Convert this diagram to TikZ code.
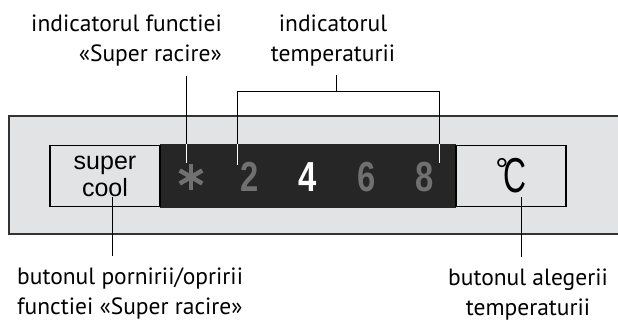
\documentclass[tikz,border=0pt]{standalone}
\usepackage{fontspec}
\setmainfont{PT Sans}
\newfontfamily\arialfont{Liberation Sans}
\usetikzlibrary{positioning}
\definecolor{panelgrey}{HTML}{E2E3E5}
\definecolor{lcdblack}{HTML}{262626}
\definecolor{segoff}{HTML}{707070}

\begin{document}
\begin{tikzpicture}[
  x=1pt, y=-1pt,
  label/.style={font=\fontsize{23.5}{30}\selectfont, inner sep=0pt},
  button/.style={draw, line width=1.1pt, fill=panelgrey, minimum width=110pt, minimum height=61pt,
    inner sep=0pt, outer sep=0pt, align=center, font=\arialfont\fontsize{25}{27}\selectfont},
  lcd/.style={fill=lcdblack, minimum width=296pt, minimum height=64pt, inner sep=0pt, outer sep=0pt},
  digit/.style={font=\arialfont\bfseries\fontsize{42}{42}\selectfont, inner sep=0pt},
  lead/.style={line width=0.9pt}
]
  \useasboundingbox (0,0) rectangle (618,321);

  % panel
  \fill[panelgrey] (9,116) rectangle (622,234);
  \draw[line width=1.3pt, black!80] (622,116) -- (9,116) -- (9,234) -- (622,234);

  % display and buttons
  \node[lcd] (lcd) at (308,176) {};
  \node[button, left=0pt of lcd] (super) {super\\cool};
  \node[button, right=0pt of lcd] (temp)
    {\raisebox{11pt}{\fontsize{33}{33}\selectfont °}\kern-5pt\fontsize{49}{49}\selectfont\scalebox{0.65}[1]{C}};

  % indicators
  \coordinate (snow) at (191,177);
  \foreach \a in {90,30,150}
    \draw[segoff, line width=4.5pt] (snow) ++(\a:13pt) -- ++(\a+180:26pt);
  \foreach \d/\c [count=\i] in {2/segoff,4/white,6/segoff,8/segoff}
    \node[digit, text=\c] (d\d) at (191+58.5*\i,177) {\scalebox{0.78}[1]{\d}};

  % labels
  \node[label, align=right, anchor=north east] (lblstar) at (222,15) {indicatorul functiei\\«Super racire»};
  \node[label, align=center, anchor=north] (lblscale) at (333,15) {indicatorul\\temperaturii};
  \node[label, align=left, anchor=north west] (lblsuper) at (17,268) {butonul pornirii/opririi\\functiei «Super racire»};
  \node[label, align=center, anchor=north] (lbltemp) at (528,269) {butonul alegerii\\temperaturii};

  % leader lines
  \coordinate (starend) at (186,163);
  \coordinate (lowend) at (237,165);
  \coordinate (highend) at (439,163);
  \coordinate (bracket) at (336,91);
  \coordinate (superend) at (112,197);
  \coordinate (tempend) at (521,197);

  \draw[lead] ([yshift=-9pt]lblstar.south -| starend) -- (starend);
  \draw[lead] ([yshift=-8pt]lblscale.south -| bracket) -- (bracket);
  \draw[lead] (lowend) -- (lowend |- bracket) -- (highend |- bracket) -- (highend);
  \draw[lead, white] (lcd.north -| starend) -- (starend);
  \draw[lead, white] (lcd.north -| lowend) -- (lowend);
  \draw[lead, white] (lcd.north -| highend) -- (highend);
  \draw[lead] (superend) -- ([yshift=12pt]lblsuper.north -| superend);
  \draw[lead] (tempend) -- ([yshift=12pt]lbltemp.north -| tempend);
\end{tikzpicture}
\end{document}
